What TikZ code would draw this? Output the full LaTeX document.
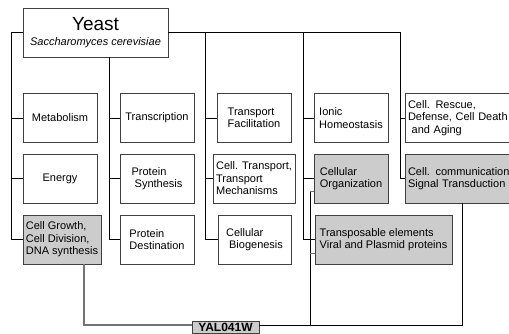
\documentclass[tikz,border=0pt]{standalone}
\usepackage{fontspec}
\setmainfont{Liberation Sans}
\usepackage{tikz}
\usetikzlibrary{positioning}
\tikzstyle{cat}=[rectangle, draw=black!75, fill=white, minimum height=49pt, inner sep=3pt,
        font=\fontsize{11}{12.5}\selectfont, align=left]
\tikzstyle{catg}=[cat, fill=black!20]
\tikzstyle{gene}=[rectangle, draw=black!75, fill=black!20, anchor=north, minimum width=67pt,
        inner xsep=2pt, inner ysep=1.5pt, font=\fontsize{12}{13}\selectfont\bfseries]
\tikzstyle{tree}=[draw=black, line width=0.7pt]
\tikzstyle{link}=[draw=black!55, line width=1.2pt]

\begin{document}
\begin{tikzpicture}[x=1pt, y=-1pt]
\useasboundingbox (0,0) rectangle (509,333);
\node [cat, align=center, minimum width=145pt] (yeast) at (95.5,32.5)
  {{\fontsize{19}{19}\selectfont Yeast}\\[3pt]{\itshape Saccharomyces cerevisiae}};

\node [cat, align=center, minimum width=74pt] (metab) at (60,118) {Metabolism};
\node [cat, align=center, minimum width=74pt] (transc) at (157,118) {Transcription};
\node [cat, minimum width=74pt] (tfac) at (254,118) {Transport\\Facilitation};
\node [cat, minimum width=74pt] (ionic) at (351,118) {Ionic\\Homeostasis};
\node [cat, minimum width=115pt, text width=109pt] (rescue) at (462.5,118)
  {Cell. Rescue,\\Defense, Cell Death\\ \ and Aging};

\node [cat, align=center, minimum width=74pt] (energy) at (60,178.5) {Energy};
\node [cat, minimum width=74pt] (psyn) at (157,178.5) {Protein\\ \ Synthesis};
\node [cat, minimum width=74pt] (ctrans) at (254,178.5) {Cell. Transport,\\Transport\\Mechanisms};
\node [catg, minimum width=74pt] (org) at (351,178.5) {Cellular\\Organization};
\node [catg, minimum width=115pt, text width=109pt] (signal) at (462.5,178.5)
  {Cell. communication\\Signal Transduction};

\node [catg, minimum width=78pt] (growth) at (62,239.5) {Cell Growth,\\Cell Division,\\DNA synthesis};
\node [cat, minimum width=74pt] (pdest) at (157,239.5) {Protein\\Destination};
\node [cat, minimum width=73pt] (biogen) at (254.5,239.5) {Cellular\\ \ Biogenesis};
\node [catg, minimum width=137pt] (transpo) at (383.5,239.5)
  {Transposable elements\\Viral and Plasmid proteins};

\node [gene] (yal) at (225.5,321) {YAL041W};

% buses of the tree
\coordinate (c1) at (11,0);
\coordinate (c2) at (109,0);
\coordinate (c3) at (205,0);
\coordinate (c4) at (303,0);
\coordinate (c5) at (400,0);

\draw[tree] (yeast.west) -| (c1 |- growth.west) -- (growth.west);
\draw[tree] (c1 |- metab.west) -- (metab.west);
\draw[tree] (c1 |- energy.west) -- (energy.west);

\draw[tree] (c2 |- yeast.south) -- (c2 |- pdest.west) -- (pdest.west);
\draw[tree] (c2 |- transc.west) -- (transc.west);
\draw[tree] (c2 |- psyn.west) -- (psyn.west);

\draw[tree] (yeast.east) -| (c5 |- signal.west) -- (signal.west);
\draw[tree] (c5 |- rescue.west) -- (rescue.west);

\draw[tree] (c3 |- yeast.east) -- (c3 |- biogen.west) -- (biogen.west);
\draw[tree] (c3 |- tfac.west) -- (tfac.west);
\draw[tree] (c3 |- ctrans.west) -- (ctrans.west);

\draw[tree] (c4 |- yeast.east) -- (c4 |- transpo.west) -- (transpo.west);
\draw[tree] (c4 |- ionic.west) -- (ionic.west);
\draw[tree] (c4 |- org.west) -- (org.west);

% links of the gene
\coordinate (g1) at (84,325);
\coordinate (g2) at (310,191);
\coordinate (g3) at (310,253);
\draw[link] (growth.south -| g1) -- (g1) -- (yal.west |- g1);
\draw[tree] (yal.east |- g1) -| (signal.south);
\draw[tree] (g2 |- g1) -- (g2);
\draw[link, line width=0.9pt] (g2) -- (g2 -| org.west);
\draw[link, line width=0.9pt] (g3) -- (g3 -| transpo.west);

\end{tikzpicture}
\end{document}
